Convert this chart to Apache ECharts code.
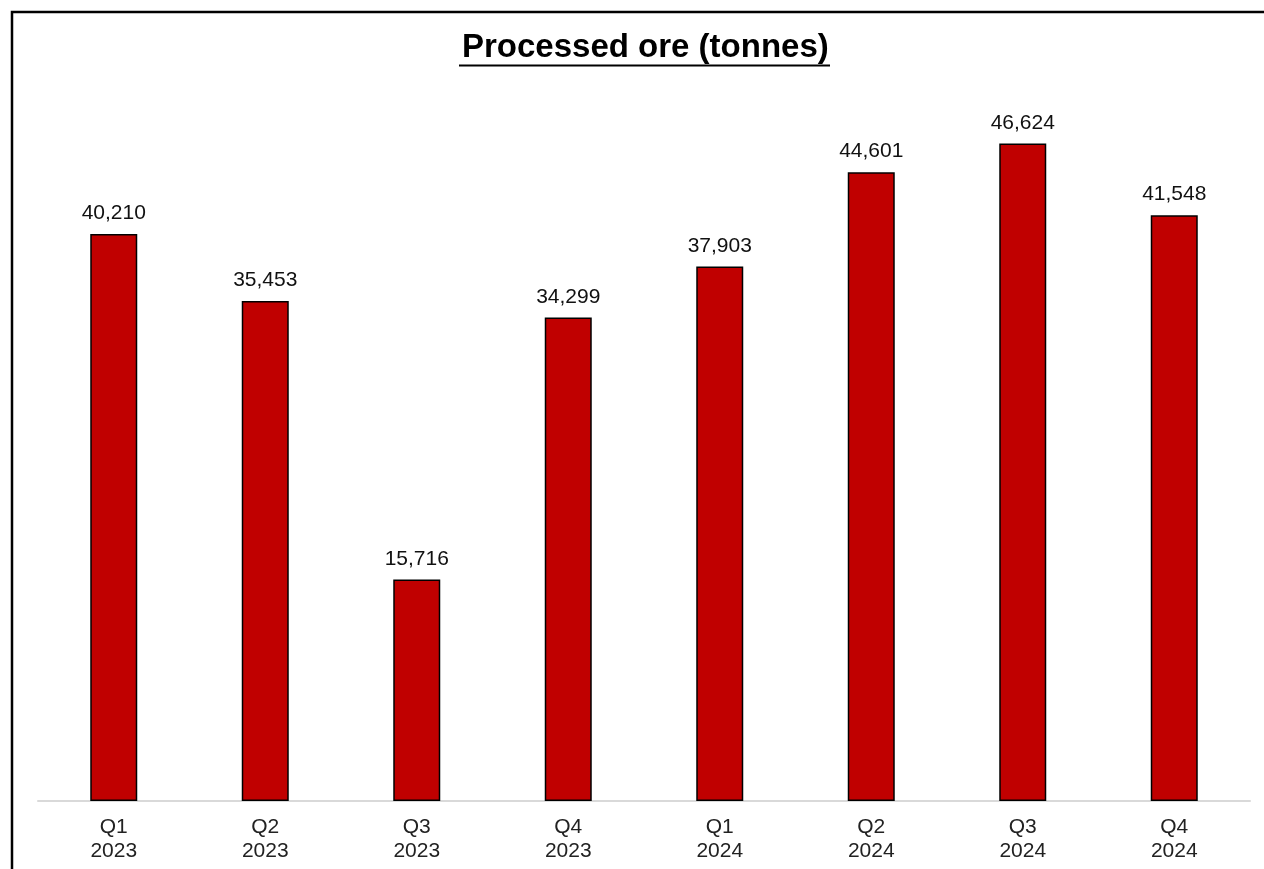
<!DOCTYPE html>
<html>
<head>
<meta charset="utf-8">
<script src="https://cdn.jsdelivr.net/npm/echarts@6/dist/echarts.min.js"></script>
<style>
    html, body {margin: 0; padding: 0; background: #fff;}
    #chart {width: 1264px; height: 869px;}
</style>
</head>
<body>
<div id="chart"></div>
<script>
var quarters = ['Q1\n2023', 'Q2\n2023', 'Q3\n2023', 'Q4\n2023', 'Q1\n2024', 'Q2\n2024', 'Q3\n2024', 'Q4\n2024'];
var oreTonnes = [40210, 35453, 15716, 34299, 37903, 44601, 46624, 41548];
var titleText = 'Processed ore (tonnes)';

var chart = echarts.init(document.getElementById('chart'));
var option = {
    animation: false,
    textStyle: {fontFamily: 'Liberation Sans, Arial, sans-serif'},
    title: {
        text: titleText,
        left: 457,
        top: 26,
        textStyle: {fontSize: 33, fontWeight: 'bold', color: '#000', fontFamily: 'Liberation Sans, Arial, sans-serif'}
    },
    graphic: [
        {
            type: 'polyline',
            shape: {points: [[12, 869], [12, 12], [1264, 12]]},
            style: {stroke: '#000', lineWidth: 2.5, fill: null}
        },
        {
            // underline below the title
            type: 'line',
            shape: {x1: 459, y1: 65.5, x2: 830, y2: 65.5},
            style: {stroke: '#000', lineWidth: 2}
        }
    ],
    grid: {left: 38, right: 14, top: 96, bottom: 68},
    xAxis: {
        type: 'category',
        data: quarters,
        axisLine: {lineStyle: {color: '#d9d9d9', width: 2}},
        axisTick: {show: false},
        axisLabel: {fontSize: 21, color: '#222', lineHeight: 24, margin: 14}
    },
    yAxis: {
        type: 'value',
        min: 0,
        max: 50000,
        show: false,
        splitLine: {show: false}
    },
    series: [
        {
            type: 'bar',
            data: oreTonnes,
            barWidth: 47,
            itemStyle: {color: '#c00000', borderColor: '#000', borderWidth: 1.5},
            label: {
                show: true,
                position: 'top',
                distance: 10,
                fontSize: 21,
                color: '#111',
                formatter: function (p) {
                    return p.value.toLocaleString('en-US');
                }
            }
        }
    ]
};
chart.setOption(option);
</script>
</body>
</html>
